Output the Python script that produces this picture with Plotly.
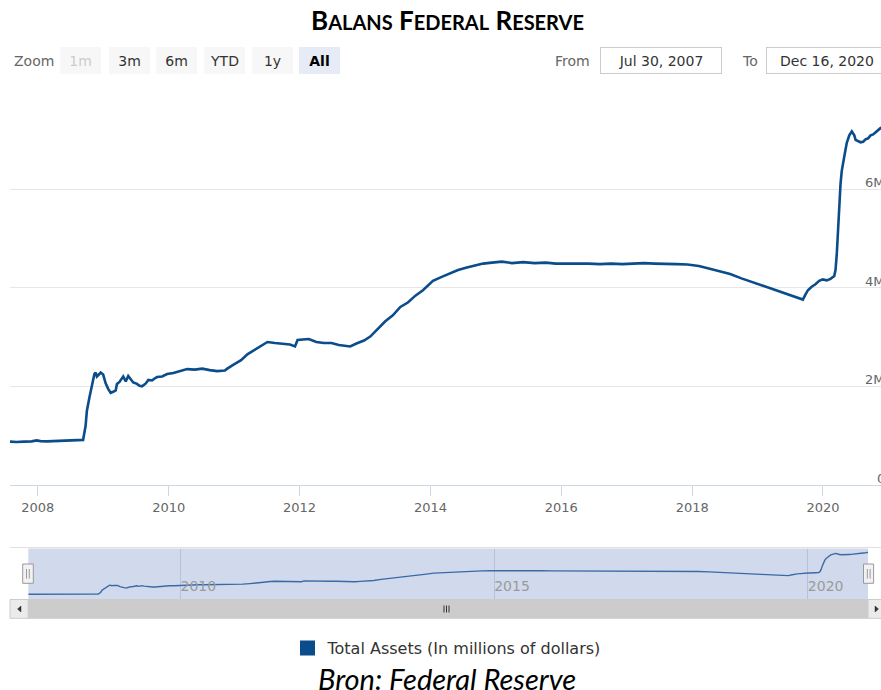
import plotly.graph_objects as go

# ---------------- data ----------------
SERIES_NAME = "Total Assets (In millions of dollars)"
dates = [
    "2007-07-30", "2007-09-05", "2007-10-17", "2007-11-28", "2007-12-26", "2008-01-16",
    "2008-02-20", "2008-03-26", "2008-04-30", "2008-06-04", "2008-07-09", "2008-08-13",
    "2008-09-10", "2008-09-24", "2008-10-01", "2008-10-15", "2008-10-29", "2008-11-12",
    "2008-11-19", "2008-11-26", "2008-12-10", "2008-12-17", "2008-12-31",
    "2009-01-14", "2009-01-28", "2009-02-11", "2009-02-25", "2009-03-11", "2009-03-18",
    "2009-04-01", "2009-04-22", "2009-05-06", "2009-05-20", "2009-06-03", "2009-06-17",
    "2009-07-08", "2009-07-22", "2009-08-05", "2009-08-26", "2009-09-09", "2009-09-30",
    "2009-10-14", "2009-10-28", "2009-11-25", "2009-12-23",
    "2010-01-27", "2010-03-03", "2010-04-14", "2010-05-26", "2010-07-07", "2010-08-18",
    "2010-09-29", "2010-11-10", "2010-11-24", "2010-12-29",
    "2011-02-09", "2011-03-16", "2011-04-27", "2011-06-08", "2011-07-06", "2011-08-17",
    "2011-09-28", "2011-11-09", "2011-12-07", "2011-12-21",
    "2012-02-22", "2012-04-04", "2012-05-16", "2012-06-27", "2012-08-08", "2012-09-19",
    "2012-10-10", "2012-11-14", "2012-12-26",
    "2013-01-30", "2013-03-13", "2013-04-24", "2013-06-05", "2013-07-17", "2013-08-28",
    "2013-10-09", "2013-11-20", "2014-01-15",
    "2014-03-05", "2014-04-16", "2014-06-04", "2014-07-23", "2014-09-10", "2014-10-22",
    "2014-12-10",
    "2015-02-04", "2015-04-01", "2015-06-03", "2015-08-05", "2015-10-07", "2015-12-02",
    "2016-02-03", "2016-04-06", "2016-06-01", "2016-08-03", "2016-10-05", "2016-12-07",
    "2017-02-01", "2017-04-05", "2017-06-07", "2017-08-02", "2017-10-04", "2017-12-06",
    "2018-02-07", "2018-04-04", "2018-06-06", "2018-08-01", "2018-10-03", "2018-12-05",
    "2019-02-06", "2019-04-03", "2019-06-05", "2019-07-17", "2019-08-28", "2019-09-11",
    "2019-09-25", "2019-10-09", "2019-10-30", "2019-11-20", "2019-12-11", "2019-12-31",
    "2020-01-22", "2020-02-12", "2020-03-04", "2020-03-11", "2020-03-18", "2020-03-25",
    "2020-04-01", "2020-04-08", "2020-04-15", "2020-04-22", "2020-04-29", "2020-05-13",
    "2020-05-27", "2020-06-10", "2020-06-24", "2020-07-01", "2020-07-15", "2020-07-29",
    "2020-08-12", "2020-08-26", "2020-09-09", "2020-09-23", "2020-10-07", "2020-10-21",
    "2020-11-04", "2020-11-18", "2020-12-02", "2020-12-16",
]
total_assets = [  # millions of dollars
    880000, 872000, 880000, 885000, 905000, 890000,
    885000, 890000, 890000, 895000, 900000, 905000,
    915000, 1200000, 1500000, 1770000, 2000000, 2250000,
    2280000, 2200000, 2250000, 2280000, 2240000,
    2060000, 1950000, 1870000, 1890000, 1920000, 2050000,
    2090000, 2200000, 2100000, 2210000, 2140000, 2080000,
    2050000, 2010000, 2000000, 2060000, 2130000, 2120000,
    2160000, 2190000, 2200000, 2250000,
    2270000, 2300000, 2350000, 2340000, 2360000, 2330000,
    2310000, 2320000, 2360000, 2440000,
    2530000, 2650000, 2740000, 2840000, 2900000, 2880000,
    2870000, 2850000, 2810000, 2940000,
    2960000, 2900000, 2880000, 2880000, 2840000, 2820000,
    2810000, 2870000, 2930000,
    3010000, 3170000, 3320000, 3440000, 3610000, 3700000,
    3840000, 3950000, 4140000,
    4220000, 4290000, 4360000, 4410000, 4460000, 4490000,
    4510000,
    4530000, 4500000, 4520000, 4500000, 4510000, 4490000,
    4490000, 4500000, 4490000, 4480000, 4490000, 4480000,
    4490000, 4500000, 4490000, 4490000, 4480000, 4470000,
    4440000, 4390000, 4330000, 4280000, 4190000, 4110000,
    4030000, 3950000, 3870000, 3820000, 3770000, 3760000,
    3860000, 3950000, 4020000, 4070000, 4140000, 4170000,
    4150000, 4180000, 4240000, 4360000, 4670000, 5250000,
    5820000, 6100000, 6370000, 6570000, 6660000, 6940000,
    7090000, 7170000, 7090000, 7000000, 6970000, 6950000,
    6960000, 7010000, 7030000, 7090000, 7110000, 7150000,
    7190000, 7240000, 7260000, 7360000,
]
y_tick_values = [0, 2000000, 4000000, 6000000, 8000000]
y_tick_labels = ["0", "2M", "4M", "6M", ""]
zoom_buttons = ["1m", "3m", "6m", "YTD", "1y", "All"]
from_date_label = "Jul 30, 2007"
to_date_label = "Dec 16, 2020"
visible_range = ["2007-07-30", "2020-11-20"]
full_range = ["2007-07-30", "2020-12-16"]

# ---------------- styling ----------------
W, H = 881, 690
PL, PR = 10, 881
FONT = "DejaVu Sans, Liberation Sans, sans-serif"
TFONT = "Lato, Open Sans, sans-serif"
LINE = "#0b4c8a"


def px(x):
    return (x - PL) / (PR - PL)


def py(y):
    return (H - y) / H


fig = go.Figure()
fig.add_trace(go.Scatter(x=dates, y=total_assets, mode="lines", name=SERIES_NAME,
                         line=dict(color=LINE, width=2.6), showlegend=False,
                         xaxis="x", yaxis="y"))
fig.add_trace(go.Scatter(x=[None], y=[None], mode="markers", name=SERIES_NAME,
                         marker=dict(symbol="square", size=15, color=LINE),
                         showlegend=True, xaxis="x", yaxis="y"))
fig.add_trace(go.Scatter(x=dates, y=total_assets, mode="lines", showlegend=False,
                         line=dict(color="#3a6aa6", width=1.4), hoverinfo="skip",
                         xaxis="x2", yaxis="y2"))

shapes = []
annotations = []

# navigator background + outline
shapes.append(dict(type="rect", xref="x2 domain", yref="y2 domain", x0=0, x1=1, y0=0, y1=1,
                   fillcolor="#d1daed", line=dict(width=0), layer="below"))
shapes.append(dict(type="line", xref="paper", yref="paper", x0=px(10), x1=px(881),
                   y0=py(547.5), y1=py(547.5), line=dict(color="#e0e0e0", width=1)))

# navigator handles
for hx0, hx1 in [(22.7, 33.3), (863.5, 873.6)]:
    shapes.append(dict(type="rect", xref="paper", yref="paper", x0=px(hx0), x1=px(hx1),
                       y0=py(583.3), y1=py(564), fillcolor="#f2f2f2",
                       line=dict(color="#999999", width=1)))
    for lx in (hx0 + 3.8, hx0 + 6.6):
        shapes.append(dict(type="line", xref="paper", yref="paper", x0=px(lx), x1=px(lx),
                           y0=py(578.5), y1=py(569), line=dict(color="#999999", width=1)))

# scrollbar
shapes.append(dict(type="rect", xref="paper", yref="paper", x0=px(10), x1=px(28.3),
                   y0=py(618.3), y1=py(599.5), fillcolor="#ebebeb",
                   line=dict(color="#cccccc", width=1)))
shapes.append(dict(type="rect", xref="paper", yref="paper", x0=px(28.3), x1=px(868),
                   y0=py(618.3), y1=py(599.5), fillcolor="#cccccc",
                   line=dict(color="#cccccc", width=1)))
shapes.append(dict(type="rect", xref="paper", yref="paper", x0=px(868), x1=px(890),
                   y0=py(618.3), y1=py(599.5), fillcolor="#ebebeb",
                   line=dict(color="#cccccc", width=1)))
shapes.append(dict(type="path", xref="paper", yref="paper",
                   path=f"M {px(21)} {py(606)} L {px(17.5)} {py(609)} L {px(21)} {py(612)} Z",
                   fillcolor="#333333", line=dict(color="#333333", width=0.5)))
shapes.append(dict(type="path", xref="paper", yref="paper",
                   path=f"M {px(875)} {py(606)} L {px(878.5)} {py(609)} L {px(875)} {py(612)} Z",
                   fillcolor="#333333", line=dict(color="#333333", width=0.5)))
for lx in (444, 446.5, 449):
    shapes.append(dict(type="line", xref="paper", yref="paper", x0=px(lx), x1=px(lx),
                       y0=py(612.5), y1=py(605.5), line=dict(color="#333333", width=1)))

# title (small caps)
big, small = 26, 20
def sc(word):
    return f"{word[0]}<span style='font-size:{small}px'>{word[1:]}</span>"
title_text = "<b>" + " ".join(sc(w) for w in "BALANS FEDERAL RESERVE".split()) + "</b>"
annotations.append(dict(text=title_text, xref="paper", yref="paper", x=px(447), y=py(20),
                        xanchor="center", yanchor="middle", showarrow=False,
                        font=dict(family=TFONT, size=big, color="#000000")))

# zoom row
annotations.append(dict(text="Zoom", xref="paper", yref="paper", x=px(11.5), y=py(60.5),
                        xanchor="left", yanchor="middle", showarrow=False,
                        font=dict(family=FONT, size=14, color="#666666")))
btn_centers = [80.8, 129.2, 176.7, 224.5, 272.2, 319.7]
for lab, cx in zip(zoom_buttons, btn_centers):
    active = lab == "All"
    disabled = lab == "1m"
    annotations.append(dict(
        text=f"<b>{lab}</b>" if active else lab, xref="paper", yref="paper", x=px(cx), y=py(60.5),
        xanchor="center", yanchor="middle", showarrow=False, width=41, height=27,
        borderpad=0, borderwidth=0, bgcolor="#e6ebf5" if active else "#f7f7f7",
        font=dict(family=FONT, size=14,
                  color="#cccccc" if disabled else ("#000000" if active else "#333333"))))

annotations.append(dict(text="From", xref="paper", yref="paper", x=px(552.5), y=py(60.5),
                        xanchor="left", yanchor="middle", showarrow=False,
                        font=dict(family=FONT, size=14, color="#666666")))
annotations.append(dict(text="To", xref="paper", yref="paper", x=px(740), y=py(60.5),
                        xanchor="left", yanchor="middle", showarrow=False,
                        font=dict(family=FONT, size=14, color="#666666")))
for txt, cx in [(from_date_label, 661), (to_date_label, 826.5)]:
    annotations.append(dict(text=txt, xref="paper", yref="paper", x=px(cx), y=py(60.5),
                            xanchor="center", yanchor="middle", showarrow=False,
                            width=120, height=25, borderpad=0, borderwidth=1,
                            bordercolor="#cccccc", bgcolor="#ffffff",
                            font=dict(family=FONT, size=14, color="#333333")))

# y tick labels (right side, partially cut by the frame as in the reference)
for v, lab in zip(y_tick_values, y_tick_labels):
    if lab:
        annotations.append(dict(text=lab, xref="paper", yref="y", x=px(887), y=v,
                                xanchor="right", yanchor="bottom", yshift=-3, showarrow=False,
                                font=dict(family=FONT, size=13, color="#666666")))

# source line
annotations.append(dict(text="<i>Bron: Federal Reserve</i>", xref="paper", yref="paper",
                        x=px(447), y=py(678), xanchor="center", yanchor="middle",
                        showarrow=False, font=dict(family=TFONT, size=29, color="#000000")))

fig.update_layout(
    width=W, height=H,
    margin=dict(l=PL, r=W - PR, t=0, b=0, pad=0),
    paper_bgcolor="#ffffff", plot_bgcolor="#ffffff",
    font=dict(family=FONT, size=13, color="#666666"),
    showlegend=True,
    legend=dict(orientation="h", x=px(447), xanchor="center", y=py(648), yanchor="middle",
                font=dict(family=FONT, size=16, color="#333333"), bgcolor="rgba(0,0,0,0)",
                itemwidth=30),
    xaxis=dict(domain=[0, 1], anchor="y", type="date", range=visible_range,
               tick0="2008-01-01", dtick="M24", tickformat="%Y",
               showgrid=False, zeroline=False, showline=True, linecolor="#ccd6eb", linewidth=1,
               ticks="outside", ticklen=10, tickcolor="#ccd6eb", tickwidth=1,
               tickfont=dict(family=FONT, size=13, color="#666666")),
    yaxis=dict(domain=[py(485), py(90.5)], anchor="x", range=[0, 8000000],
               tickvals=y_tick_values, showticklabels=False, showgrid=True,
               gridcolor="#e6e6e6", gridwidth=1, zeroline=False, showline=False),
    xaxis2=dict(domain=[px(28.3), px(868)], anchor="y2", type="date", range=full_range,
                tick0="2010-01-01", dtick="M60", tickformat="%Y",
                showgrid=True, gridcolor="#b7c2da", gridwidth=1, zeroline=False,
                showline=False, ticks="", ticklabelposition="inside right",
                tickfont=dict(family=FONT, size=14, color="#9a9a9a")),
    yaxis2=dict(domain=[py(599.3), py(548.5)], anchor="x2", range=[110000, 7930000],
                showticklabels=False, showgrid=False, zeroline=False, showline=False),
    shapes=shapes,
    annotations=annotations,
)

fig.write_html("out.html", config={"displayModeBar": False},
               post_script="document.body.style.margin='0px';")
